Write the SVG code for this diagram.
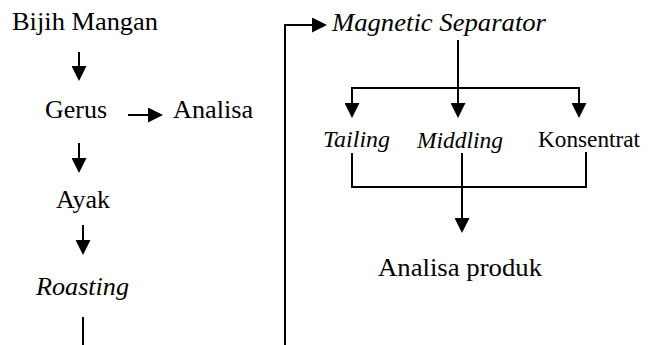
<svg xmlns="http://www.w3.org/2000/svg" width="651" height="345" viewBox="0 0 651 345">
<style>
.t{font-size:26px;fill:#000}
.it{font-style:italic}
.sm{font-size:23px}
.c{fill:none;stroke:#000;stroke-width:2}
</style>
<defs>
<marker id="ah" viewBox="0 0 15 15" refX="0" refY="7.5" markerWidth="15" markerHeight="15" markerUnits="userSpaceOnUse" orient="auto">
<path d="M0,0 L15,7.5 L0,15 z" fill="#000"/>
</marker>
</defs>
<rect width="651" height="345" fill="#fff"/>
<g id="connectors">
<path class="c" d="M79,52 V66" marker-end="url(#ah)"/>
<path class="c" d="M128,115 H148" marker-end="url(#ah)"/>
<path class="c" d="M79,143 V158" marker-end="url(#ah)"/>
<path class="c" d="M83,225 V240" marker-end="url(#ah)"/>
<path class="c" d="M83,317 V345"/>
<path class="c" d="M285,345 V25 H312" marker-end="url(#ah)"/>
<path class="c" d="M458,40 V103" marker-end="url(#ah)"/>
<path class="c" d="M352,88 H579"/>
<path class="c" d="M352,87 V103" marker-end="url(#ah)"/>
<path class="c" d="M579,87 V103" marker-end="url(#ah)"/>
<path class="c" d="M352,153 V187 H586 V152"/>
<path class="c" d="M462,153 V218" marker-end="url(#ah)"/>
</g>
<g font-family="Liberation Serif">
<g id="bijih"><text class="t" x="12" y="30" textLength="146" lengthAdjust="spacingAndGlyphs">Bijih Mangan</text></g>
<g id="gerus"><text class="t" x="45" y="118" textLength="62" lengthAdjust="spacingAndGlyphs">Gerus</text></g>
<g id="analisa"><text class="t" x="173" y="118" textLength="80" lengthAdjust="spacingAndGlyphs">Analisa</text></g>
<g id="ayak"><text class="t" x="56" y="208" textLength="54" lengthAdjust="spacingAndGlyphs">Ayak</text></g>
<g id="roasting"><text class="t it" x="36" y="295" textLength="93" lengthAdjust="spacingAndGlyphs">Roasting</text></g>
<g id="magnetic"><text class="t it" x="332" y="31" textLength="214" lengthAdjust="spacingAndGlyphs">Magnetic Separator</text></g>
<g id="tailing"><text class="t it sm" x="323" y="147" textLength="67" lengthAdjust="spacingAndGlyphs">Tailing</text></g>
<g id="middling"><text class="t it sm" x="417" y="148" textLength="86" lengthAdjust="spacingAndGlyphs">Middling</text></g>
<g id="konsentrat"><text class="t sm" x="538" y="147" textLength="102" lengthAdjust="spacingAndGlyphs">Konsentrat</text></g>
<g id="produk"><text class="t" x="378" y="276" textLength="164" lengthAdjust="spacingAndGlyphs">Analisa produk</text></g>
</g>
</svg>
